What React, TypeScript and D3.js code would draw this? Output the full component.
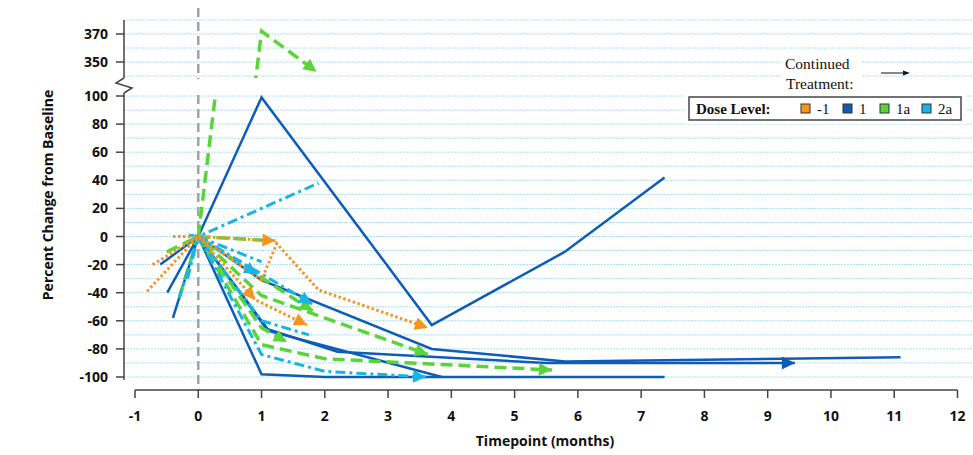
import * as d3 from "d3";

type Pt = [number, number];

// dose levels
const doses = ["-1", "1", "1a", "2a"];
const doseColors = ["#f7941d", "#0d5db8", "#5ad43a", "#19b4e6"];

// x axis ticks (months) and y axis labels
const xTicks = [-1, 0, 1, 2, 3, 4, 5, 6, 7, 8, 9, 10, 11, 12];
const yTicksLow = [-100, -80, -60, -40, -20, 0, 20, 40, 60, 80, 100];
const yTicksHigh = [350, 370];

// patients, [months, % change]
const b1: Pt[] = [[-0.6, -20], [0, 0], [1, 99], [3.69, -63], [5.79, -11], [7.37, 42]];
const b2: Pt[] = [[-0.4, -58], [0, 0], [1, -98], [2, -100], [7.37, -100]];
const b3: Pt[] = [[-0.49, -40], [0, 0], [1, -31], [3.69, -80], [5.8, -89], [11.1, -86]];
const b4: Pt[] = [[0, 0], [1.1, -67], [3.85, -100]];
const b5: Pt[] = [[0, 0], [1.1, -66], [2.2, -82], [5.5, -90], [9.43, -90]];

const g1: Pt[] = [[0, 0], [1, 372], [1.87, 343]];
const g2: Pt[] = [[-0.5, -11], [0, 0], [1.81, -53]];
const g3: Pt[] = [[-0.3, -43], [0, 0], [1, -42], [3.63, -84]];
const g4: Pt[] = [[0, 0], [1, -77], [2, -87], [5.59, -95]];
const g5: Pt[] = [[0, 0], [1.15, -3]];
const g6: Pt[] = [[0, 0], [1, -65], [1.4, -75]];

const c1: Pt[] = [[-0.15, 1], [0, 0], [1.9, 38]];
const c2: Pt[] = [[-0.17, -30], [0, 0], [0.93, -27]];
const c3: Pt[] = [[-0.3, -44], [0, 0], [1.8, -48]];
const c4: Pt[] = [[0, 0], [1, -84], [2, -96], [3.6, -100]];
const c5: Pt[] = [[0, 0], [1, -18]];
const c6: Pt[] = [[0, 0], [1, -60], [1.75, -70]];

const o1: Pt[] = [[-0.4, 0], [0, 0], [1.22, -3]];
const o2: Pt[] = [[-0.81, -39], [0, 0], [1, -31], [1.24, -5], [1.9, -38], [3.63, -65]];
const o3: Pt[] = [[-0.72, -20], [0, 0], [0.9, -45], [1.72, -63]];

// series: dose index, points, indexes of points that get an arrow (continued treatment)
const series: { dose: number; pts: Pt[]; arrows: number[] }[] = [
  { dose: 1, pts: b1, arrows: [] },
  { dose: 1, pts: b2, arrows: [] },
  { dose: 1, pts: b3, arrows: [] },
  { dose: 1, pts: b4, arrows: [] },
  { dose: 1, pts: b5, arrows: [4] },
  { dose: 2, pts: g1, arrows: [2] },
  { dose: 2, pts: g2, arrows: [2] },
  { dose: 2, pts: g3, arrows: [3] },
  { dose: 2, pts: g4, arrows: [3] },
  { dose: 2, pts: g5, arrows: [] },
  { dose: 2, pts: g6, arrows: [2] },
  { dose: 3, pts: c1, arrows: [] },
  { dose: 3, pts: c2, arrows: [2] },
  { dose: 3, pts: c3, arrows: [2] },
  { dose: 3, pts: c4, arrows: [3] },
  { dose: 3, pts: c5, arrows: [] },
  { dose: 3, pts: c6, arrows: [] },
  { dose: 0, pts: o1, arrows: [2] },
  { dose: 0, pts: o2, arrows: [5] },
  { dose: 0, pts: o3, arrows: [2, 3] },
];

const W = 973;
const H = 455;
const axisX = 124;
const font = "'Open Sans', sans-serif";
const serif = "'Liberation Serif', 'Times New Roman', serif";

const lineStyle = [
  { width: 3, dash: "2.5,2.5" },
  { width: 2.5, dash: null },
  { width: 3.5, dash: "12,6" },
  { width: 3, dash: "10,4,3,4" },
];

export default function App() {
  const x = d3.scaleLinear().domain([-1, 12]).range([135, 957.5]);
  const yLow = d3.scaleLinear().domain([-100, 100]).range([377, 96]);
  const yHigh = d3.scaleLinear().domain([350, 370]).range([62, 34]);

  const lineLow = d3.line<Pt>().x((d) => x(d[0])).y((d) => yLow(d[1]));
  const lineHigh = d3.line<Pt>().x((d) => x(d[0])).y((d) => yHigh(d[1]));

  const gridLow = d3.range(-100, 101, 10);
  const gridHigh = d3.range(340, 381, 10);

  const arrowHead = (pts: Pt[], i: number) => {
    const ys = (v: number) => (v > 200 ? yHigh(v) : yLow(v));
    const [t1, v1] = pts[i - 1];
    const [t2, v2] = pts[i];
    const px1 = x(t1);
    const py1 = v2 > 200 ? yHigh(v1) : yLow(v1);
    const px2 = x(t2), py2 = ys(v2);
    const a = Math.atan2(py2 - py1, px2 - px1);
    const L = 13, hw = 6.5;
    const bx = px2 - L * Math.cos(a), by = py2 - L * Math.sin(a);
    const nx = -Math.sin(a) * hw, ny = Math.cos(a) * hw;
    return `M${px2},${py2}L${bx + nx},${by + ny}L${bx - nx},${by - ny}Z`;
  };

  const lines = (panel: "low" | "high") =>
    series.map((s, i) => {
      const st = lineStyle[s.dose];
      return (
        <path
          key={panel + i}
          d={(panel === "low" ? lineLow : lineHigh)(s.pts) ?? ""}
          fill="none"
          stroke={doseColors[s.dose]}
          strokeWidth={st.width}
          strokeDasharray={st.dash ?? undefined}
          strokeLinejoin="miter"
        />
      );
    });

  const legendX = [801, 843, 880, 922];
  const tickText = { fontFamily: font, fontWeight: "bold", fontSize: 14, fill: "#111" } as const;

  return (
    <svg
      width={W}
      height={H}
      style={{ position: "absolute", left: 0, top: 0, background: "#fff" }}
    >
      <defs>
        <clipPath id="clip-low">
          <rect x={axisX} y={95} width={W - axisX} height={300} />
        </clipPath>
        <clipPath id="clip-high">
          <rect x={axisX} y={0} width={W - axisX} height={78} />
        </clipPath>
      </defs>

      {/* grid */}
      {gridLow.map((v) => (
        <line key={"gl" + v} x1={axisX} x2={W} y1={yLow(v)} y2={yLow(v)}
          stroke="#a6def0" strokeWidth={1} strokeDasharray="2,1" />
      ))}
      {gridHigh.map((v) => (
        <line key={"gh" + v} x1={axisX} x2={W} y1={yHigh(v)} y2={yHigh(v)}
          stroke="#a6def0" strokeWidth={1} strokeDasharray="2,1" />
      ))}

      {/* baseline marker */}
      <line x1={x(0)} x2={x(0)} y1={8} y2={79} stroke="#a3a3a3" strokeWidth={2.5} strokeDasharray="9,5" />
      <line x1={x(0)} x2={x(0)} y1={95} y2={391} stroke="#a3a3a3" strokeWidth={2.5} strokeDasharray="9,5" />

      {/* continued treatment note */}
      <rect x={782} y={54} width={80} height={40} fill="#fff" />
      <text x={785} y={69} fontFamily={serif} fontSize={15.5} fill="#111">Continued</text>
      <text x={786} y={89} fontFamily={serif} fontSize={15.5} fill="#111">Treatment:</text>
      <line x1={881} x2={904} y1={73} y2={73} stroke="#111" strokeWidth={1} />
      <path d="M910,73L903,70.5L903,75.5Z" fill="#111" />

      {/* legend */}
      <rect x={685} y={93} width={282} height={31} fill="#fff" />
      <rect x={689} y={97} width={272} height={23} fill="#fff" stroke="#444" strokeWidth={1.5} />
      <text x={696} y={114} fontFamily={serif} fontSize={15} fontWeight="bold" fill="#111">Dose Level:</text>
      {doses.map((d, i) => (
        <g key={d}>
          <rect x={legendX[i]} y={104} width={9} height={9} fill={doseColors[i]} stroke="#333" strokeWidth={1} />
          <text x={legendX[i] + 16} y={114} fontFamily={serif} fontSize={15} fill="#111">{d}</text>
        </g>
      ))}

      {/* data */}
      <g clipPath="url(#clip-low)">{lines("low")}</g>
      <g clipPath="url(#clip-high)">{lines("high")}</g>
      {series.flatMap((s, i) =>
        s.arrows.map((k) => (
          <path key={"a" + i + "-" + k} d={arrowHead(s.pts, k)} fill={doseColors[s.dose]} />
        )),
      )}

      {/* y axis */}
      <line x1={axisX} x2={axisX} y1={20} y2={78} stroke="#444" strokeWidth={1.5} />
      <path d={`M${axisX},78L116,83L132,88L${axisX},93`} fill="none" stroke="#444" strokeWidth={1.5} />
      <line x1={axisX} x2={axisX} y1={93} y2={380} stroke="#444" strokeWidth={1.5} />
      {yTicksHigh.map((v) => (
        <g key={"th" + v} transform={`translate(0,${yHigh(v)})`}>
          <line x1={116} x2={axisX} stroke="#444" strokeWidth={1.5} />
          <text x={108} dy="0.36em" textAnchor="end" {...tickText}>{v}</text>
        </g>
      ))}
      {yTicksLow.map((v) => (
        <g key={"tl" + v} transform={`translate(0,${yLow(v)})`}>
          <line x1={116} x2={axisX} stroke="#444" strokeWidth={1.5} />
          <text x={108} dy="0.36em" textAnchor="end" {...tickText}>{v}</text>
        </g>
      ))}
      <text transform="translate(53,195) rotate(-90)" textAnchor="middle" {...tickText}>
        Percent Change from Baseline
      </text>

      {/* x axis */}
      <line x1={x(-1)} x2={x(12)} y1={390} y2={390} stroke="#444" strokeWidth={1.5} />
      {xTicks.map((t) => (
        <g key={"tx" + t} transform={`translate(${x(t)},390)`}>
          <line y1={0} y2={8} stroke="#444" strokeWidth={1.5} />
          <text y={31} textAnchor="middle" {...tickText}>{t}</text>
        </g>
      ))}
      <text x={545} y={446} textAnchor="middle" {...tickText}>
        Timepoint (months)
      </text>
    </svg>
  );
}
